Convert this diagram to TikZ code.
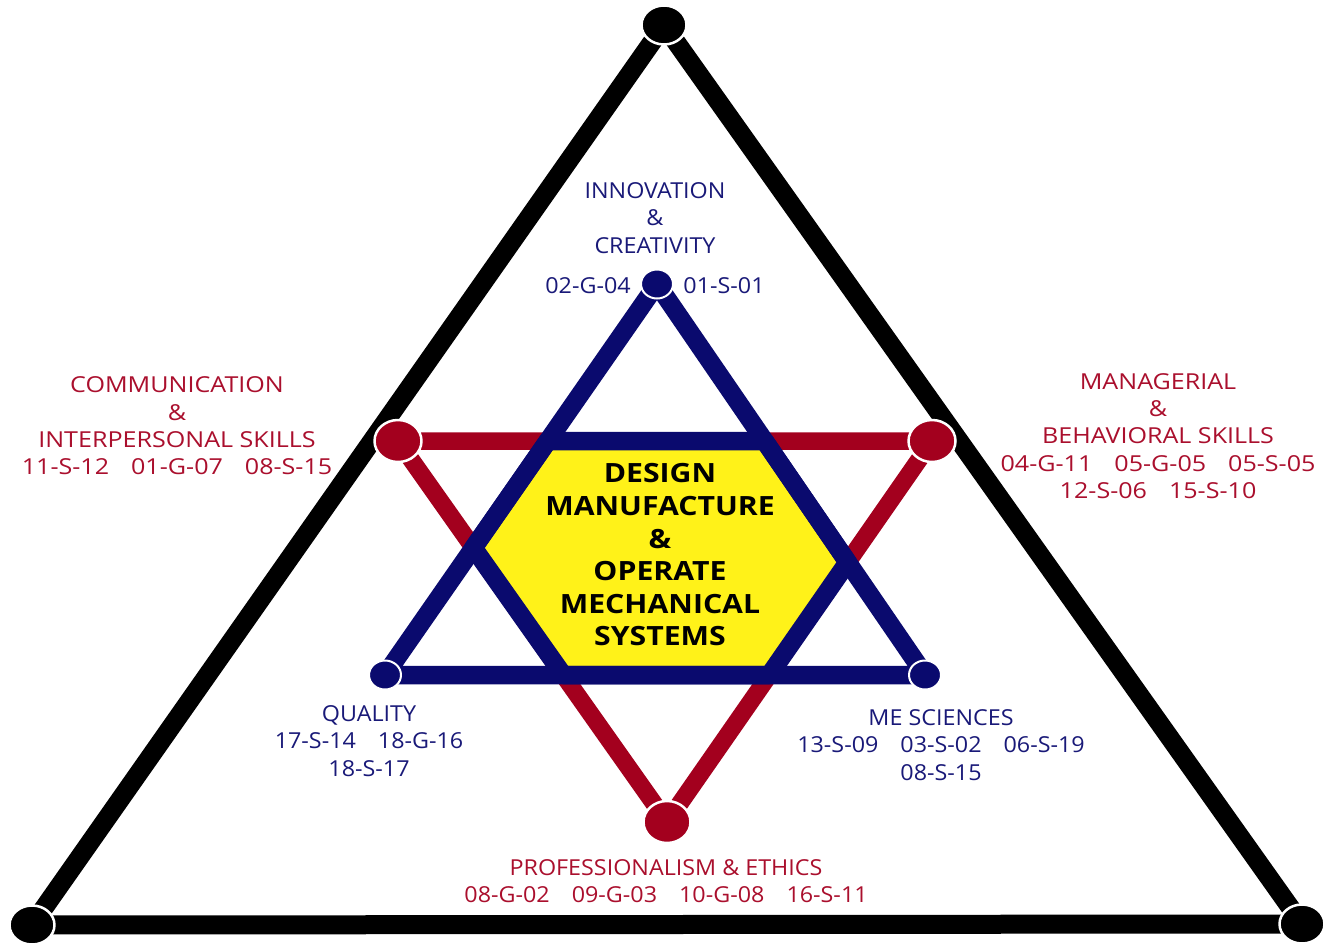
\documentclass[tikz,border=0pt]{standalone}
\usepackage{fontspec}
\setmainfont[FakeStretch=1.14]{Open Sans}
\newfontfamily\slimfont[FakeStretch=1.06]{Open Sans}
\usetikzlibrary{shapes.geometric}
\definecolor{navy}{RGB}{10,10,110}
\definecolor{wine}{RGB}{163,0,30}
\definecolor{lemon}{RGB}{255,242,25}
\definecolor{navytext}{RGB}{25,25,120}
\definecolor{winetext}{RGB}{170,15,45}

\begin{document}
\begin{tikzpicture}[x=1pt,y=-1pt,line join=round,
	outer side/.style={black,line width=19pt},
	blue side/.style={navy,line width=18.5pt},
	red side/.style={wine,line width=17.5pt},
	black dot/.style={ellipse,fill=black,draw=white,line width=2.5pt,minimum width=45pt,minimum height=39pt,inner sep=0pt},
	blue dot/.style={ellipse,fill=navy,draw=white,line width=2pt,minimum width=32pt,minimum height=29pt,inner sep=0pt},
	red dot/.style={ellipse,fill=wine,draw=white,line width=2.5pt,minimum width=47pt,minimum height=42pt,inner sep=0pt},
	slim/.style={font=\slimfont\fontsize{22}{27.3}\selectfont},
	blue label/.style={navytext,align=center,inner sep=0pt,slim},
	red label/.style={winetext,align=center,inner sep=0pt,font=\fontsize{22}{27.3}\selectfont},
	centre label/.style={align=center,inner sep=0pt,font=\bfseries\fontsize{26.5}{32.6}\selectfont}]

	\useasboundingbox (0,0) rectangle (1325,945);

	\coordinate (oT) at (664,25);
	\coordinate (oL) at (32,925);
	\coordinate (oR) at (1302,924);
	\coordinate (bT) at (657,284);
	\coordinate (bL) at (385,675);
	\coordinate (bR) at (925,675);
	\coordinate (rL) at (398,441);
	\coordinate (rR) at (932,441);
	\coordinate (rB) at (667,822);

	\coordinate (h1) at (intersection of rL--rR and bT--bL);
	\coordinate (h2) at (intersection of rL--rR and bT--bR);
	\coordinate (h3) at (intersection of rR--rB and bT--bR);
	\coordinate (h4) at (intersection of rR--rB and bL--bR);
	\coordinate (h5) at (intersection of rL--rB and bL--bR);
	\coordinate (h6) at (intersection of rL--rB and bT--bL);

	\draw [outer side] (oT) -- (oL) -- (oR) -- cycle;
	\draw [red side] (rL) -- (rR) -- (rB) -- cycle;
	\fill [lemon] (h1) -- (h2) -- (h3) -- (h4) -- (h5) -- (h6) -- cycle;
	\draw [blue side] (h1) -- (h2) -- (h3) -- (h4) -- (h5) -- (h6) -- cycle;
	\draw [blue side] (bT) -- (bL) -- (bR) -- cycle;

	\node [black dot] (doT) at (oT) {};
	\node [black dot] (doL) at (oL) {};
	\node [black dot] (doR) at (oR) {};
	\node [red dot] (drL) at (rL) {};
	\node [red dot] (drR) at (rR) {};
	\node [red dot] (drB) at (rB) {};
	\node [blue dot] (dbT) at (bT) {};
	\node [blue dot] (dbL) at (bL) {};
	\node [blue dot] (dbR) at (bR) {};

	\node [centre label] (core) at (660,555) {DESIGN\\MANUFACTURE\\\&\\OPERATE\\MECHANICAL\\SYSTEMS};

	\node [blue label] (innov) at (655,218) {INNOVATION\\\&\\CREATIVITY};
	\node [blue label] (innovA) at (588,286) {02-G-04};
	\node [blue label] (innovB) at (724,286) {01-S-01};
	\node [blue label] (qual) at (369,741) {QUALITY\\17-S-14\quad 18-G-16\\18-S-17};
	\node [blue label] (sci) at (941,745) {ME SCIENCES\\13-S-09\quad 03-S-02\quad 06-S-19\\08-S-15};

	\node [red label] (comm) at (177,426) {COMMUNICATION\\\&\\INTERPERSONAL SKILLS\\11-S-12\quad 01-G-07\quad 08-S-15};
	\node [red label] (manag) at (1158,436) {MANAGERIAL\\\&\\BEHAVIORAL SKILLS\\04-G-11\quad 05-G-05\quad 05-S-05\\12-S-06\quad 15-S-10};
	\node [red label, slim] (prof) at (666,881) {PROFESSIONALISM \& ETHICS\\08-G-02\quad 09-G-03\quad 10-G-08\quad 16-S-11};

\end{tikzpicture}
\end{document}
